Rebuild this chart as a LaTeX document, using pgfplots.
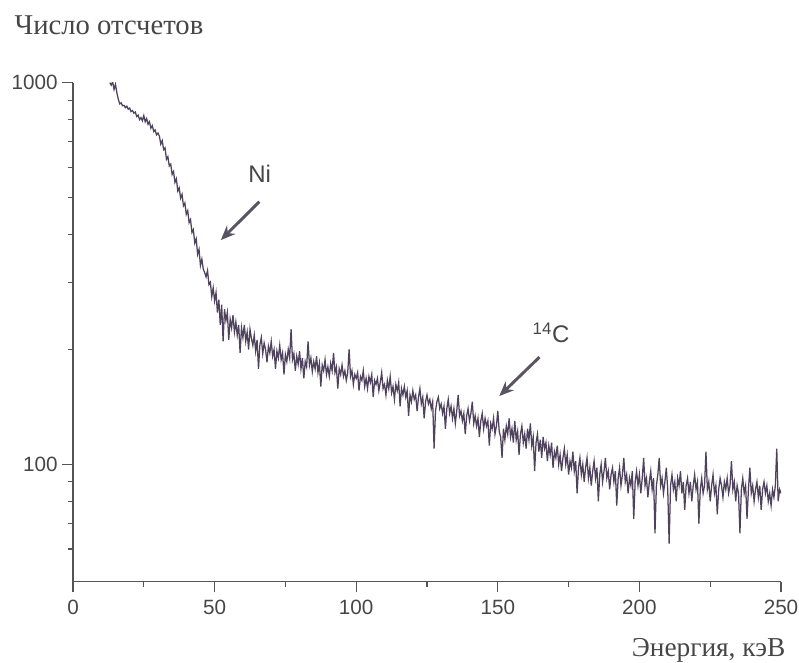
\documentclass[border=0pt]{standalone}
\usepackage{fontspec}
\setmainfont{Liberation Serif}
\setsansfont{Liberation Sans}
\usepackage{pgfplots}
\pgfplotsset{compat=1.18}
\usetikzlibrary{arrows.meta}
\definecolor{curve}{RGB}{78,66,92}
\definecolor{axisgray}{RGB}{85,85,85}
\definecolor{txt}{RGB}{70,70,70}
\definecolor{arrowc}{RGB}{90,84,98}
\begin{document}
\begin{tikzpicture}
\path[use as bounding box] (-54.75pt,-61pt) rectangle (544.5pt,436.25pt);
\begin{axis}[
  scale only axis, width=531pt, height=374.25pt,
  ymode=log, xmin=0, xmax=250, ymin=49.3, ymax=1000,
  axis lines=left, axis line style={-, axisgray, line width=0.9pt},
  tick align=outside, tick style={axisgray, line width=0.9pt},
  major tick length=8pt, minor tick length=4pt,
  xtick={0,50,...,250}, minor xtick={25,75,125,175,225},
  ytick={100,1000}, yticklabels={100,1000},
  minor ytick={60,70,80,90,200,300,400,500,600,700,800,900},
  ticklabel style={font=\fontsize{15.5}{15.5}\selectfont\sffamily, text=txt},
  xticklabel style={yshift=-2pt},
  /pgf/number format/assume math mode=true,
  clip mode=individual,
]
\addplot[curve, line width=0.95pt] coordinates {
(13,1000) (13.5,985) (14,1005) (14.5,960) (15,990) (15.5,940) (16,905) (16.5,880) (17,885) (17.5,870)
(18,872) (18.5,860) (19,868) (19.5,852) (20,858) (20.5,840) (21,845) (21.5,832) (22,838) (22.5,815)
(23,822) (23.5,800) (24,810) (24.5,795) (25,820) (25.5,790) (26,805) (26.5,778) (27,790) (27.5,760)
(28,772) (28.5,745) (29,752) (29.5,730) (30,738) (30.5,725) (31,690) (31.5,705) (32,668) (32.5,675)
(33,630) (33.5,640) (34,605) (34.5,612) (35,575) (35.5,585) (36,548) (36.5,560) (37,520) (37.5,530)
(38,498) (38.5,510) (39,476) (39.5,484) (40,452) (40.5,462) (41,430) (41.5,438) (42,405) (42.5,412)
(43,380) (43.5,390) (44,355) (44.5,366) (45,332) (45.5,345) (46,325) (46.5,318) (47,310) (47.5,322)
(48,296) (48.5,300) (49,275) (49.5,290) (50,268) (50.5,282) (51,250) (51.5,270) (52,232) (52.5,262)
(53,210) (53.5,255) (54,238) (54.5,250) (55,212) (55.5,240) (56,228) (56.5,246) (57,222) (57.5,236)
(58,218) (58.5,232) (59,196) (59.5,228) (60,215) (60.5,232) (61,210) (61.5,222) (62,200) (62.5,226)
(63,214) (63.5,205) (64,218) (64.5,198) (65,212) (65.5,178) (66,206) (66.5,215) (67,195) (67.5,208)
(68,200) (68.5,185) (69,204) (69.5,196) (70,210) (70.5,192) (71,200) (71.5,178) (72,198) (72.5,190)
(73,205) (73.5,188) (74,196) (74.5,172) (75,194) (75.5,186) (76,200) (76.5,190) (77,226) (77.5,188)
(78,195) (78.5,176) (79,192) (79.5,183) (80,198) (80.5,178) (81,190) (81.5,168) (82,186) (82.5,180)
(83,210) (83.5,182) (84,190) (84.5,175) (85,186) (85.5,178) (86,192) (86.5,174) (87,184) (87.5,160)
(88,182) (88.5,176) (89,188) (89.5,172) (90,180) (90.5,170) (91,184) (91.5,176) (92,196) (92.5,174)
(93,180) (93.5,158) (94,178) (94.5,172) (95,182) (95.5,170) (96,176) (96.5,166) (97,174) (97.5,200)
(98,170) (98.5,176) (99,162) (99.5,172) (100,168) (100.5,174) (101,156) (101.5,170) (102,166) (102.5,176)
(103,160) (103.5,168) (104,158) (104.5,170) (105,164) (105.5,172) (106,150) (106.5,166) (107,162) (107.5,168)
(108,156) (108.5,164) (109,174) (109.5,158) (110,162) (110.5,152) (111,166) (111.5,158) (112,170) (112.5,154)
(113,160) (113.5,148) (114,162) (114.5,156) (115,164) (115.5,142) (116,158) (116.5,152) (117,160) (117.5,150)
(118,156) (118.5,134) (119,152) (119.5,146) (120,156) (120.5,148) (121,152) (121.5,138) (122,150) (122.5,158)
(123,144) (123.5,150) (124,132) (124.5,146) (125,152) (125.5,144) (126,148) (126.5,140) (127,146) (127.5,110)
(128,138) (128.5,146) (129,150) (129.5,140) (130,144) (130.5,136) (131,142) (131.5,124) (132,140) (132.5,148)
(133,136) (133.5,142) (134,132) (134.5,140) (135,128) (135.5,138) (136,152) (136.5,134) (137,138) (137.5,130)
(138,136) (138.5,120) (139,134) (139.5,140) (140,130) (140.5,136) (141,146) (141.5,128) (142,134) (142.5,126)
(143,132) (143.5,118) (144,130) (144.5,136) (145,124) (145.5,132) (146,126) (146.5,130) (147,112) (147.5,128)
(148,124) (148.5,132) (149,120) (149.5,126) (150,138) (150.5,122) (151,118) (151.5,104) (152,124) (152.5,116)
(153,126) (153.5,120) (154,132) (154.5,118) (155,124) (155.5,114) (156,130) (156.5,116) (157,122) (157.5,106)
(158,120) (158.5,126) (159,114) (159.5,120) (160,110) (160.5,124) (161,116) (161.5,128) (162,112) (162.5,118)
(163,96) (163.5,114) (164,120) (164.5,108) (165,116) (165.5,104) (166,118) (166.5,110) (167,114) (167.5,102)
(168,112) (168.5,106) (169,114) (169.5,98) (170,108) (170.5,104) (171,112) (171.5,100) (172,106) (172.5,96)
(173,104) (173.5,110) (174,100) (174.5,106) (175,94) (175.5,102) (176,98) (176.5,108) (177,96) (177.5,102)
(178,84) (178.5,98) (179,104) (179.5,94) (180,100) (180.5,90) (181,98) (181.5,104) (182,92) (182.5,98)
(183,88) (183.5,96) (184,102) (184.5,92) (185,98) (185.5,80) (186,94) (186.5,100) (187,90) (187.5,96)
(188,104) (188.5,92) (189,96) (189.5,86) (190,94) (190.5,98) (191,90) (191.5,96) (192,78) (192.5,92)
(193,98) (193.5,88) (194,94) (194.5,104) (195,90) (195.5,94) (196,84) (196.5,92) (197,88) (197.5,96)
(198,72) (198.5,90) (199,96) (199.5,88) (200,94) (200.5,84) (201,92) (201.5,104) (202,88) (202.5,92)
(203,82) (203.5,90) (204,96) (204.5,86) (205,92) (205.5,66) (206,88) (206.5,94) (207,104) (207.5,88)
(208,92) (208.5,84) (209,90) (209.5,98) (210,86) (210.5,62) (211,88) (211.5,94) (212,86) (212.5,90)
(213,80) (213.5,92) (214,88) (214.5,96) (215,84) (215.5,90) (216,76) (216.5,88) (217,92) (217.5,84)
(218,90) (218.5,80) (219,88) (219.5,94) (220,86) (220.5,90) (221,70) (221.5,86) (222,92) (222.5,84)
(223,88) (223.5,108) (224,86) (224.5,90) (225,80) (225.5,88) (226,94) (226.5,84) (227,88) (227.5,74)
(228,86) (228.5,92) (229,88) (229.5,82) (230,90) (230.5,86) (231,92) (231.5,84) (232,88) (232.5,102)
(233,86) (233.5,90) (234,80) (234.5,88) (235,84) (235.5,66) (236,86) (236.5,92) (237,84) (237.5,88)
(238,72) (238.5,86) (239,98) (239.5,84) (240,88) (240.5,80) (241,86) (241.5,90) (242,82) (242.5,88)
(243,76) (243.5,86) (244,90) (244.5,84) (245,88) (245.5,80) (246,84) (246.5,78) (247,86) (247.5,82)
(248,88) (248.5,110) (249,80) (249.5,86) (250,84)
};
\draw[arrowc, line width=2.2pt, -{Stealth[length=11pt,width=9pt]}] (axis cs:65.8,488) -- (axis cs:52.2,387);
\draw[arrowc, line width=2.2pt, -{Stealth[length=11pt,width=9pt]}] (axis cs:164.7,191) -- (axis cs:150.5,151);
\node[txt, font=\fontsize{18}{18}\selectfont\sffamily] at (axis cs:65.9,576) {Ni};
\node[txt, font=\fontsize{18}{18}\selectfont\sffamily] at (axis cs:168.8,221) {\textsuperscript{14}C};
\node[txt, anchor=west, font=\fontsize{21.5}{21.5}\selectfont] at (rel axis cs:-0.089,1.1156) {Число отсчетов};
\node[txt, anchor=east, font=\fontsize{20.5}{20.5}\selectfont] at (rel axis cs:1.0127,-0.137) {Энергия, кэВ};
\end{axis}
\end{tikzpicture}
\end{document}
